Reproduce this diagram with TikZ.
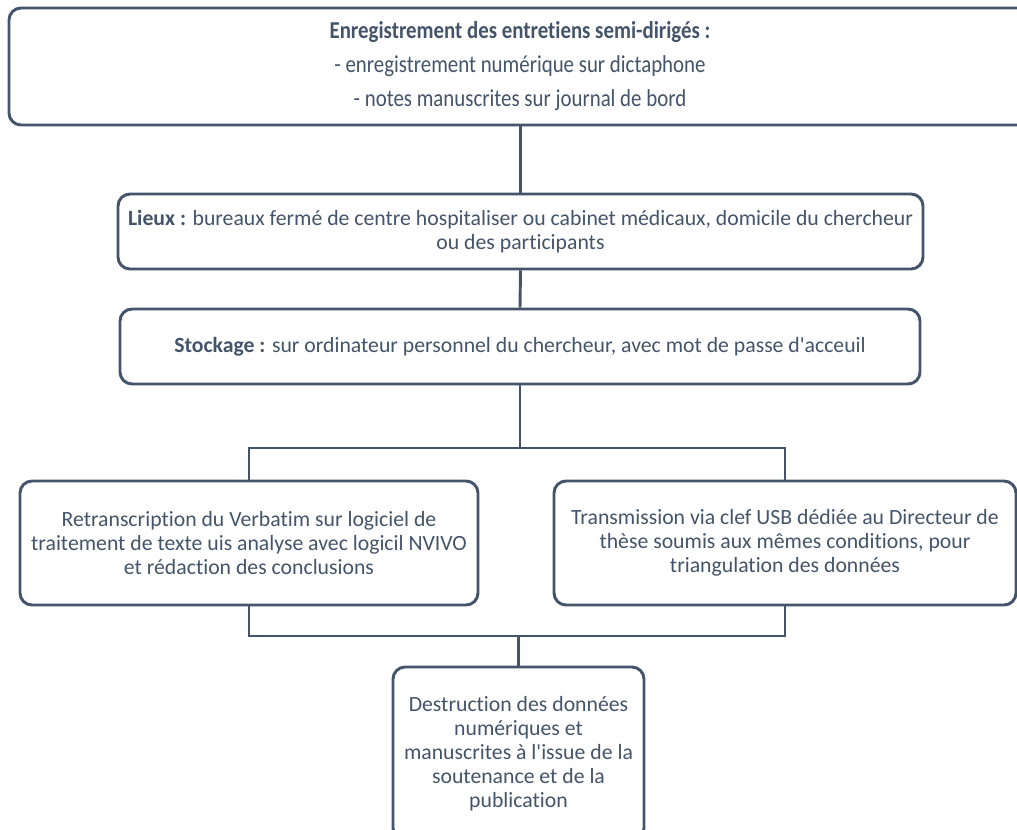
\documentclass[tikz,border=0pt]{standalone}
\usepackage{fontspec}
\setmainfont{Carlito}[Ligatures={TeXOff,CommonOff}]
\newfontfamily\condfont{Carlito}[FakeStretch=0.86,Ligatures={TeXOff,CommonOff}]
\definecolor{ink}{HTML}{44546A}
\begin{document}
\begin{tikzpicture}[x=0.75pt,y=-0.75pt,
  box/.style={draw=ink, line width=2.2pt, rounded corners=9pt, fill=white, text=ink,
    align=center, inner sep=0pt, font=\fontsize{16.3}{18}\selectfont},
  conn/.style={draw=ink, line width=2.2pt}]
\useasboundingbox (0,0) rectangle (1017,829);
\clip (0,0) rectangle (1017,829);

\node[box, minimum width=766.5pt, minimum height=87.75pt,
  font=\condfont\fontsize{18.2}{25.5}\selectfont] (top) at (520,66.5)
  {\textbf{Enregistrement des entretiens semi-dirigés :}\\
   - enregistrement numérique sur dictaphone\\
   - notes manuscrites sur journal de bord};

\node[box, minimum width=603.75pt, minimum height=56.25pt] (lieux) at (520.5,231.5)
  {\textbf{Lieux :} bureaux fermé de centre hospitaliser ou cabinet médicaux, domicile du chercheur\\
   ou des participants};

\node[box, minimum width=600pt, minimum height=56.25pt] (stock) at (520,346.5)
  {\textbf{Stockage :} sur ordinateur personnel du chercheur, avec mot de passe d'acceuil};

\node[box, minimum width=343.5pt, minimum height=93pt] (retr) at (249,543)
  {Retranscription du Verbatim sur logiciel de\\
   traitement de texte uis analyse avec logicil NVIVO\\
   et rédaction des conclusions};

\node[box, minimum width=346.5pt, minimum height=93pt] (trans) at (785,543)
  {Transmission via clef USB dédiée au Directeur de\\
   thèse soumis aux mêmes conditions, pour\\
   triangulation des données};

\node[box, minimum width=188.25pt, minimum height=129.75pt] (dest) at (518.5,753.5)
  {Destruction des données\\
   numériques et\\
   manuscrites à l'issue de la\\
   soutenance et de la\\
   publication};

\coordinate (j1) at (520,448);
\coordinate (j2) at (518.5,636);

\draw[conn] (top.south -| lieux.north) -- (lieux.north);
\draw[conn] (lieux.south) -- (stock.north);
\draw[conn] (stock.south) -- (j1);
\draw[conn] (retr.north) |- (j1) -| (trans.north);
\draw[conn] (retr.south) |- (j2) -| (trans.south);
\draw[conn] (j2) -- (dest.north);
\end{tikzpicture}
\end{document}
